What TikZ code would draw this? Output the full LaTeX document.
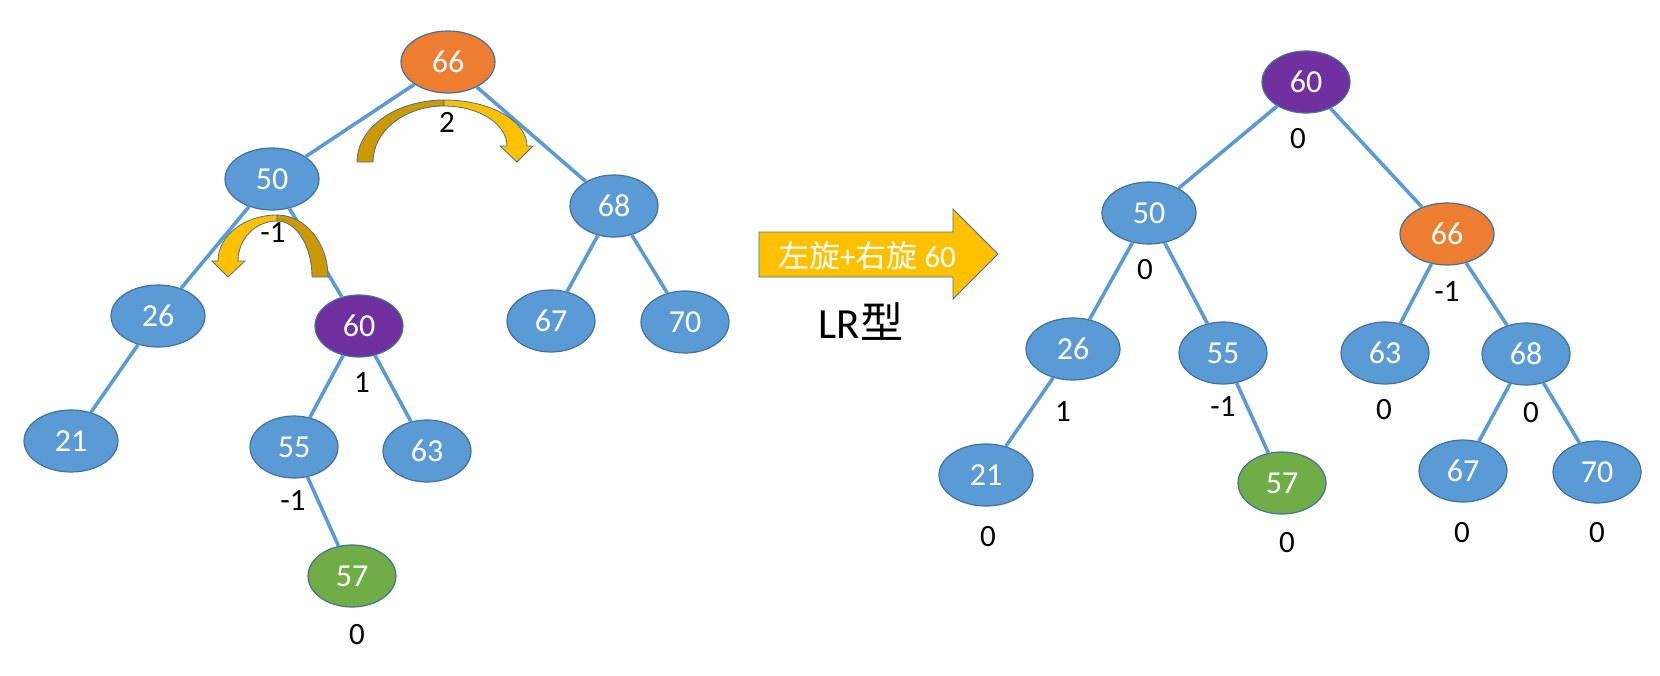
\documentclass[tikz,border=0pt]{standalone}
\usepackage{fontspec}
\setmainfont{Carlito}
\newfontfamily\cjk{Noto Sans CJK SC}
\usetikzlibrary{shapes.geometric}
\definecolor{nodeblue}{HTML}{5B9BD5}
\definecolor{edgeblue}{HTML}{5B9BD5}
\definecolor{bordblue}{HTML}{41719C}
\definecolor{orng}{HTML}{ED7D31}
\definecolor{purp}{HTML}{7030A0}
\definecolor{grn}{HTML}{70AD47}
\definecolor{gold}{HTML}{FFC000}
\definecolor{darkgold}{HTML}{CC9900}
\tikzset{
  tnode/.style={ellipse, draw=bordblue, line width=1.2pt, fill=nodeblue, text=white,
    minimum width=88pt, minimum height=62pt, inner sep=0pt,
    font=\fontsize{32}{38}\selectfont},
  wide/.style={minimum width=94pt},
  bal/.style={font=\fontsize{31}{36}\selectfont, text=black, inner sep=0pt},
  tedge/.style={draw=edgeblue, line width=3.6pt},
  ribbon/.style={draw=bordblue, line width=0.8pt},
}
\begin{document}
\begin{tikzpicture}[x=1pt,y=-1pt]
\useasboundingbox (0,0) rectangle (1660,675);

% ---------- left tree ----------
\node[tnode,wide,fill=orng] (L66) at (448,62) {66};
\node[tnode,wide] (L50) at (272,179) {50};
\node[tnode] (L68) at (614,206) {68};
\node[tnode,wide] (L26) at (158,316) {26};
\node[tnode,fill=purp] (L60) at (359,326) {60};
\node[tnode] (L67) at (551,321) {67};
\node[tnode] (L70) at (685,322) {70};
\node[tnode,wide] (L21) at (71,441) {21};
\node[tnode] (L55) at (294,447) {55};
\node[tnode] (L63) at (427,451) {63};
\node[tnode,fill=grn] (L57) at (352,576) {57};

\draw[tedge] (L66) -- (L50);
\draw[tedge] (L66) -- (L68);
\draw[tedge] (L50) -- (L26);
\draw[tedge] (L50) -- (L60);
\draw[tedge] (L68) -- (L67);
\draw[tedge] (L68) -- (L70);
\draw[tedge] (L26) -- (L21);
\draw[tedge] (L60) -- (L55);
\draw[tedge] (L60) -- (L63);
\draw[tedge] (L55) -- (L57);

\node[bal] (b1) at (447,122) {2};
\node[bal] (b2) at (273,233) {-1};
\node[bal] (b3) at (362,383) {1};
\node[bal] (b4) at (293,501) {-1};
\node[bal] (b5) at (357,635) {0};

% curved arrow (top)
\filldraw[ribbon,fill=darkgold] (357,162) arc[start angle=180,end angle=90,x radius=87pt,y radius=62pt]
  -- (444,106) arc[start angle=90,end angle=180,x radius=71pt,y radius=56pt] -- cycle;
\filldraw[ribbon,fill=gold] (444,100) arc[start angle=90,end angle=0,x radius=83pt,y radius=46pt]
  -- (533,146) -- (517,162) -- (500,146) -- (507,146)
  arc[start angle=0,end angle=90,x radius=63pt,y radius=40pt] -- cycle;

% curved arrow (small)
\filldraw[ribbon,fill=darkgold] (328,277) arc[start angle=0,end angle=90,x radius=51pt,y radius=62pt]
  -- (277,221) arc[start angle=90,end angle=0,x radius=35pt,y radius=56pt] -- cycle;
\filldraw[ribbon,fill=gold] (277,215) arc[start angle=90,end angle=180,x radius=59pt,y radius=46pt]
  -- (212,261) -- (228,277) -- (245,261) -- (238,261)
  arc[start angle=180,end angle=90,x radius=39pt,y radius=40pt] -- cycle;

% ---------- big arrow ----------
\filldraw[ribbon,fill=gold] (759,232) -- (953,232) -- (953,209) -- (998,254) -- (953,299)
  -- (953,277) -- (759,277) -- cycle;
\node[text=white, font=\fontsize{31}{36}\selectfont, inner sep=0pt] (op) at (867,256)
  {{\cjk 左旋}+{\cjk 右旋} 60};
\node[text=black, font=\fontsize{43}{50}\selectfont, inner sep=0pt] (lr) at (861,322)
  {LR{\cjk 型}};

% ---------- right tree ----------
\node[tnode,fill=purp] (R60) at (1306,82) {60};
\node[tnode,wide] (R50) at (1149,213) {50};
\node[tnode,wide,fill=orng] (R66) at (1447,234) {66};
\node[tnode,wide] (R26) at (1073,349) {26};
\node[tnode] (R55) at (1223,353) {55};
\node[tnode] (R63) at (1385,353) {63};
\node[tnode] (R68) at (1526,354) {68};
\node[tnode,wide] (R21) at (986,475) {21};
\node[tnode,fill=grn] (R57) at (1282,483) {57};
\node[tnode] (R67) at (1463,471) {67};
\node[tnode] (R70) at (1597,472) {70};

\draw[tedge] (R60) -- (R50);
\draw[tedge] (R60) -- (R66);
\draw[tedge] (R50) -- (R26);
\draw[tedge] (R50) -- (R55);
\draw[tedge] (R66) -- (R63);
\draw[tedge] (R66) -- (R68);
\draw[tedge] (R26) -- (R21);
\draw[tedge] (R55) -- (R57);
\draw[tedge] (R68) -- (R67);
\draw[tedge] (R68) -- (R70);

\node[bal] (c1) at (1298,139) {0};
\node[bal] (c2) at (1145,270) {0};
\node[bal] (c3) at (1447,292) {-1};
\node[bal] (c4) at (1063,412) {1};
\node[bal] (c5) at (1223,407) {-1};
\node[bal] (c6) at (1384,410) {0};
\node[bal] (c7) at (1531,413) {0};
\node[bal] (c8) at (988,537) {0};
\node[bal] (c9) at (1287,543) {0};
\node[bal] (c10) at (1462,533) {0};
\node[bal] (c11) at (1597,533) {0};
\end{tikzpicture}
\end{document}
